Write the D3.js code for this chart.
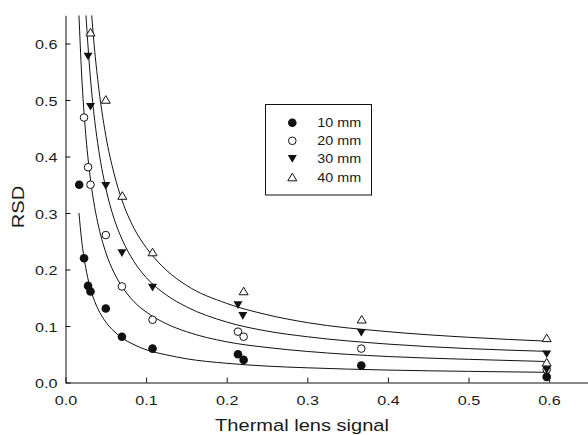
<!DOCTYPE html>
<html>
<head>
<meta charset="utf-8">
<script src="https://cdn.jsdelivr.net/npm/d3@7"></script>
<style>
  html, body { margin: 0; padding: 0; background: #fff; }
  svg { display: block; }
  text { font-family: "Liberation Sans", Arial, sans-serif; fill: #1a1a1a; }
</style>
</head>
<body>
<svg id="chart" width="588" height="435"></svg>
<script>
// ---- data ----
const xTicks = [0.0, 0.1, 0.2, 0.3, 0.4, 0.5, 0.6];
const yTicks = [0.0, 0.1, 0.2, 0.3, 0.4, 0.5, 0.6];
const seriesNames = ["10 mm", "20 mm", "30 mm", "40 mm"];
const xLabel = "Thermal lens signal";
const yLabel = "RSD";

// measured points
const x10 = [0.017, 0.023, 0.028, 0.031, 0.050, 0.070, 0.108, 0.214, 0.221, 0.367, 0.597];
const y10 = [0.350, 0.220, 0.171, 0.161, 0.131, 0.081, 0.060, 0.050, 0.040, 0.030, 0.010];
const x20 = [0.023, 0.028, 0.031, 0.050, 0.070, 0.108, 0.214, 0.221, 0.367, 0.597];
const y20 = [0.469, 0.381, 0.350, 0.261, 0.170, 0.111, 0.090, 0.081, 0.060, 0.023];
const x30 = [0.028, 0.031, 0.050, 0.070, 0.108, 0.214, 0.220, 0.367, 0.597, 0.597];
const y30 = [0.577, 0.488, 0.348, 0.229, 0.168, 0.137, 0.118, 0.088, 0.050, 0.022];
const x40 = [0.031, 0.050, 0.0705, 0.108, 0.221, 0.3675, 0.597, 0.597];
const y40 = [0.620, 0.501, 0.331, 0.231, 0.162, 0.112, 0.079, 0.036];

// fitted curves
const cx10 = [0.0167, 0.02, 0.025, 0.03, 0.035, 0.04, 0.05, 0.06, 0.07, 0.085, 0.1, 0.125, 0.15, 0.2, 0.25, 0.3, 0.4, 0.5, 0.6];
const cy10 = [0.300, 0.252, 0.204, 0.171, 0.148, 0.131, 0.107, 0.091, 0.079, 0.067, 0.058, 0.049, 0.042, 0.034, 0.029, 0.026, 0.022, 0.0197, 0.018];
const cx20 = [0.0167, 0.02, 0.025, 0.03, 0.035, 0.04, 0.05, 0.06, 0.07, 0.085, 0.1, 0.125, 0.15, 0.2, 0.25, 0.3, 0.4, 0.5, 0.6];
const cy20 = [0.650, 0.546, 0.441, 0.371, 0.320, 0.283, 0.230, 0.195, 0.170, 0.143, 0.125, 0.104, 0.090, 0.072, 0.062, 0.055, 0.046, 0.041, 0.037];
const cx30 = [0.0254, 0.03, 0.035, 0.04, 0.05, 0.06, 0.07, 0.085, 0.1, 0.125, 0.15, 0.2, 0.25, 0.3, 0.4, 0.5, 0.6];
const cy30 = [0.650, 0.555, 0.479, 0.423, 0.344, 0.291, 0.254, 0.214, 0.186, 0.155, 0.134, 0.107, 0.091, 0.081, 0.068, 0.060, 0.055];
const cx40 = [0.0325, 0.035, 0.04, 0.05, 0.06, 0.07, 0.085, 0.1, 0.125, 0.15, 0.2, 0.25, 0.3, 0.4, 0.5, 0.6];
const cy40 = [0.650, 0.606, 0.536, 0.437, 0.371, 0.323, 0.273, 0.239, 0.199, 0.172, 0.140, 0.120, 0.106, 0.090, 0.080, 0.073];

// ---- layout ----
const svg = d3.select("#chart");
const X0 = 65.5, Y0 = 382.5;
const x = d3.scaleLinear().domain([0, 0.65]).range([X0, X0 + 0.65 * 806]);
const y = d3.scaleLinear().domain([0, 0.65]).range([Y0, Y0 - 0.65 * 565]);
const SX = 1.2; // horizontal glyph stretch of the reference

svg.append("defs").append("clipPath").attr("id", "plotclip")
  .append("rect").attr("x", x(0)).attr("y", y(0.65)).attr("width", x(0.65) - x(0)).attr("height", y(0) - y(0.65));

// axes
const xAxis = svg.append("g").attr("transform", `translate(0,${Y0})`)
  .call(d3.axisBottom(x).tickValues(xTicks).tickFormat(d3.format(".1f")).tickSizeInner(-5).tickSizeOuter(0));
const yAxis = svg.append("g").attr("transform", `translate(${X0},0)`)
  .call(d3.axisLeft(y).tickValues(yTicks).tickFormat(d3.format(".1f")).tickSizeInner(-5).tickSizeOuter(0));
[xAxis, yAxis].forEach(g => {
  g.select(".domain").attr("stroke", "#111").attr("stroke-width", 1);
  g.selectAll(".tick line").attr("stroke", "#111").attr("stroke-width", 1);
  g.selectAll(".tick text").attr("font-family", "Liberation Sans, Arial, sans-serif")
    .attr("font-size", 13.5).attr("fill", "#1a1a1a");
});
xAxis.selectAll(".tick text").attr("y", null).attr("dy", null)
  .attr("transform", `translate(0,22) scale(${SX},1)`);
yAxis.selectAll(".tick text").attr("x", null).attr("dy", null)
  .attr("transform", `translate(-8,5) scale(${SX},1)`);

// axis titles
svg.append("text").attr("text-anchor", "middle").attr("font-size", 17)
  .attr("transform", `translate(302,431) scale(1.18,1)`).text(xLabel);
svg.append("text").attr("text-anchor", "middle").attr("font-size", 17)
  .attr("transform", `translate(23.5,207) rotate(-90) scale(1.18,1)`).text(yLabel);

// curves
const line = d3.line().x(d => x(d[0])).y(d => y(d[1])).curve(d3.curveMonotoneX);
const curves = [[cx10, cy10], [cx20, cy20], [cx30, cy30], [cx40, cy40]];
const cg = svg.append("g").attr("clip-path", "url(#plotclip)");
curves.forEach(([cx, cy]) => {
  cg.append("path").datum(cx.map((v, i) => [v, cy[i]]))
    .attr("d", line).attr("fill", "none").attr("stroke", "#111").attr("stroke-width", 1);
});

// markers
function marker(g, kind) {
  const w = 9, h = 7.6, r = 4.3;
  if (kind === 0) g.append("circle").attr("r", r).attr("fill", "#111");
  else if (kind === 1) g.append("circle").attr("r", r - 0.5).attr("fill", "#fff").attr("stroke", "#111").attr("stroke-width", 1);
  else if (kind === 2) g.append("path").attr("d", `M${-w/2},${-h/2}L${w/2},${-h/2}L0,${h/2}Z`).attr("fill", "#111");
  else g.append("path").attr("d", `M0,${-h/2}L${w/2},${h/2}L${-w/2},${h/2}Z`).attr("fill", "#fff").attr("stroke", "#111").attr("stroke-width", 1);
}
const pts = [[x10, y10], [x20, y20], [x30, y30], [x40, y40]];
pts.forEach(([xs, ys], k) => {
  xs.forEach((v, i) => {
    const g = svg.append("g").attr("transform", `translate(${x(v)},${y(ys[i])})`);
    marker(g, k);
  });
});

// legend
const leg = svg.append("g");
leg.append("rect").attr("x", 265.5).attr("y", 104.5).attr("width", 106).attr("height", 90.5)
  .attr("fill", "#fff").attr("stroke", "#111").attr("stroke-width", 1);
seriesNames.forEach((name, k) => {
  const yy = 122.7 + k * 18.1;
  const g = leg.append("g").attr("transform", `translate(292.3,${yy})`);
  marker(g, k);
  leg.append("text").attr("font-size", 12.5)
    .attr("transform", `translate(317.3,${yy + 4.5}) scale(1.15,1)`).text(name);
});
</script>
</body>
</html>
